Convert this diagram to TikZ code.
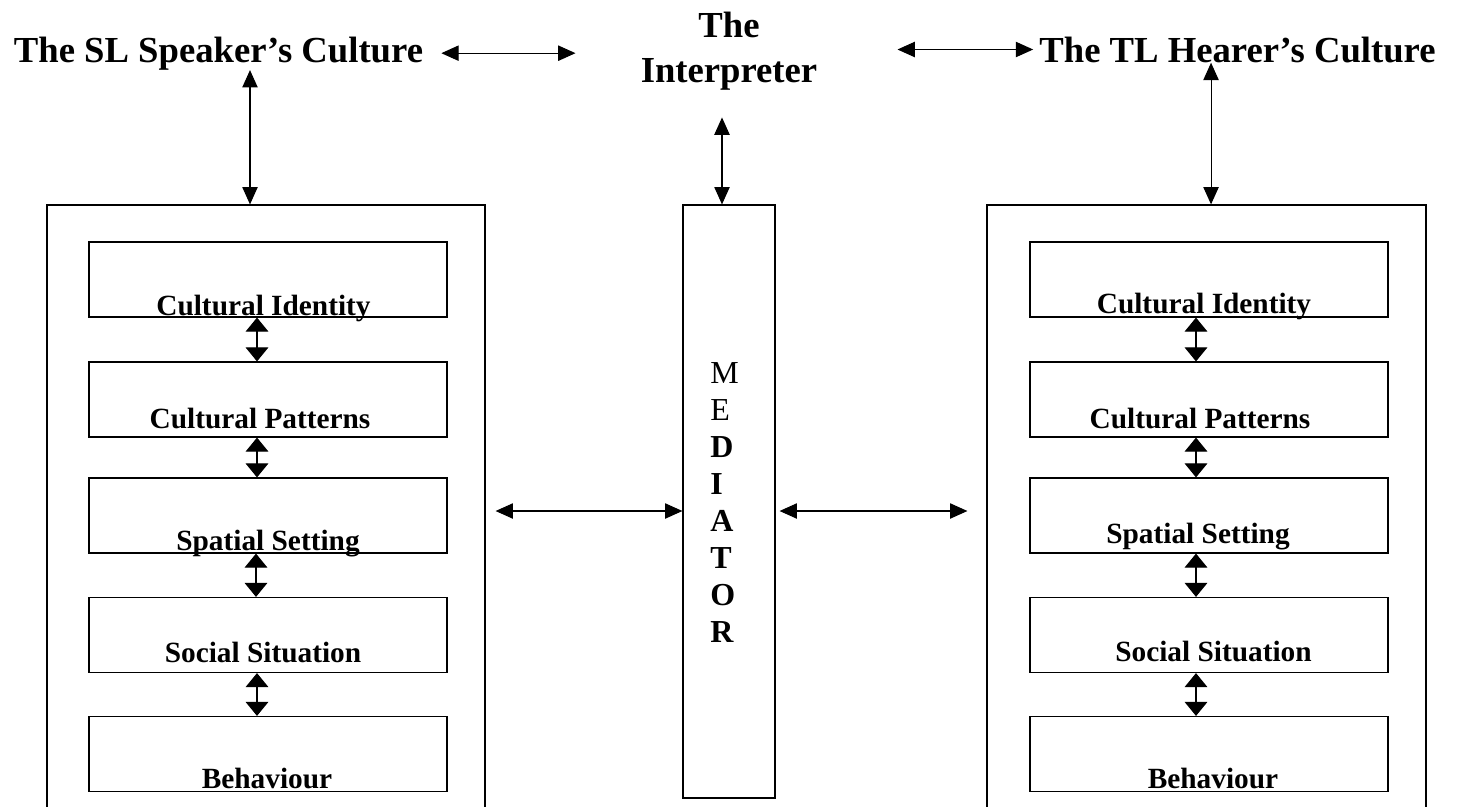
\documentclass[tikz,border=0pt]{standalone}
\usepackage{fontspec}
\setmainfont{Liberation Serif}
\usetikzlibrary{arrows.meta}

\tikzset{
  culturebox/.style={draw, line width=0.9pt, inner sep=0pt},
  layerbox/.style={draw, line width=0.9pt, inner sep=0pt, minimum width=268.5pt, minimum height=56.25pt},
  heading/.style={font=\fontsize{27.5}{33.75}\selectfont\bfseries, inner sep=0pt},
  layertext/.style={font=\fontsize{22}{26}\selectfont\bfseries, inner sep=0pt, anchor=base},
  link/.style={line width=0.8pt, {Triangle[length=13pt,width=11.5pt]}-{Triangle[length=13pt,width=11.5pt]}},
  sublink/.style={line width=0.8pt, {Triangle[length=10.5pt,width=17pt]}-{Triangle[length=10.5pt,width=17pt]}}
}

\begin{document}
\begin{tikzpicture}[x=0.75pt,y=0.75pt,yscale=-1,xscale=1]
\useasboundingbox (0,0) rectangle (1457,807);

% Headings
\node [heading, anchor=base] (slc) at (218.5,62) {The SL Speaker’s Culture};
\node [heading, anchor=base] (tlc) at (1237.5,62) {The TL Hearer’s Culture};
\node [heading, anchor=north, align=center] (interp) at (729,12) {The\\Interpreter};

%Shape: outer boxes
\node [culturebox, minimum width=328.5pt, minimum height=459pt] (sl) at (266,511) {};
\node [culturebox, minimum width=329.25pt, minimum height=459pt] (tl) at (1206.5,511) {};
\node [culturebox, minimum width=69pt, minimum height=444.75pt] (med) at (729,501.5) {};

% Text Node
\node [anchor=north west, inner sep=0pt, align=left, font=\fontsize{24}{27.8}\selectfont] (medtxt) at (710,362)
  {M\\E\\\textbf{D}\\\textbf{I}\\\textbf{A}\\\textbf{T}\\\textbf{O}\\\textbf{R}};

%Shape: layers of the SL side
\node [layerbox] (sl1) at (268,279.5) {};
\node [layerbox] (sl2) at (268,399.5) {};
\node [layerbox] (sl3) at (268,515.5) {};
\node [layerbox] (sl4) at (268,635) {};
\node [layerbox] (sl5) at (268,754) {};
\node [layertext] (sl1t) at (263.5,315) {Cultural Identity};
\node [layertext] (sl2t) at (260,428) {Cultural Patterns};
\node [layertext] (sl3t) at (268,550) {Spatial Setting};
\node [layertext] (sl4t) at (263,662) {Social Situation};
\node [layertext] (sl5t) at (267,788) {Behaviour};

%Shape: layers of the TL side
\node [layerbox] (tl1) at (1209,279.5) {};
\node [layerbox] (tl2) at (1209,399.5) {};
\node [layerbox] (tl3) at (1209,515.5) {};
\node [layerbox] (tl4) at (1209,635) {};
\node [layerbox] (tl5) at (1209,754) {};
\node [layertext] (tl1t) at (1204,313) {Cultural Identity};
\node [layertext] (tl2t) at (1200,428) {Cultural Patterns};
\node [layertext] (tl3t) at (1198,543) {Spatial Setting};
\node [layertext] (tl4t) at (1213.5,661) {Social Situation};
\node [layertext] (tl5t) at (1213,788) {Behaviour};

%Straight Lines: top row
\draw [link] ([xshift=13.5pt]slc.east) -- ([xshift=-48.75pt]interp.west |- slc.east);
\draw [link] ([xshift=60pt]interp.east |- tlc.west) -- ([xshift=-4.5pt]tlc.west);
\draw [link] ([xshift=-12pt]sl.north |- slc.south) -- ([xshift=-12pt]sl.north);
\draw [link, shorten <=20pt] ([xshift=-5.25pt]med.north |- interp.south) -- ([xshift=-5.25pt]med.north);
\draw [link] ([xshift=3.4pt]tl.north |- tlc.south) -- ([xshift=3.4pt]tl.north);

%Straight Lines: to the mediator
\draw [link, shorten <=7.5pt] (sl.east) -- (med.west |- sl.east);
\draw [link, shorten <=3pt, shorten >=14.25pt] (med.east |- tl.west) -- (tl.west);

%Straight Lines: between layers
\draw [sublink] ([xshift=-8.25pt]sl1.south) -- ([xshift=-8.25pt]sl2.north);
\draw [sublink] ([xshift=-8.25pt]sl2.south) -- ([xshift=-8.25pt]sl3.north);
\draw [sublink] ([xshift=-9pt]sl3.south) -- ([xshift=-9pt]sl4.north);
\draw [sublink] ([xshift=-8.25pt]sl4.south) -- ([xshift=-8.25pt]sl5.north);
\draw [sublink] ([xshift=-9.75pt]tl1.south) -- ([xshift=-9.75pt]tl2.north);
\draw [sublink] ([xshift=-9.75pt]tl2.south) -- ([xshift=-9.75pt]tl3.north);
\draw [sublink] ([xshift=-9.75pt]tl3.south) -- ([xshift=-9.75pt]tl4.north);
\draw [sublink] ([xshift=-9.75pt]tl4.south) -- ([xshift=-9.75pt]tl5.north);
\end{tikzpicture}
\end{document}
